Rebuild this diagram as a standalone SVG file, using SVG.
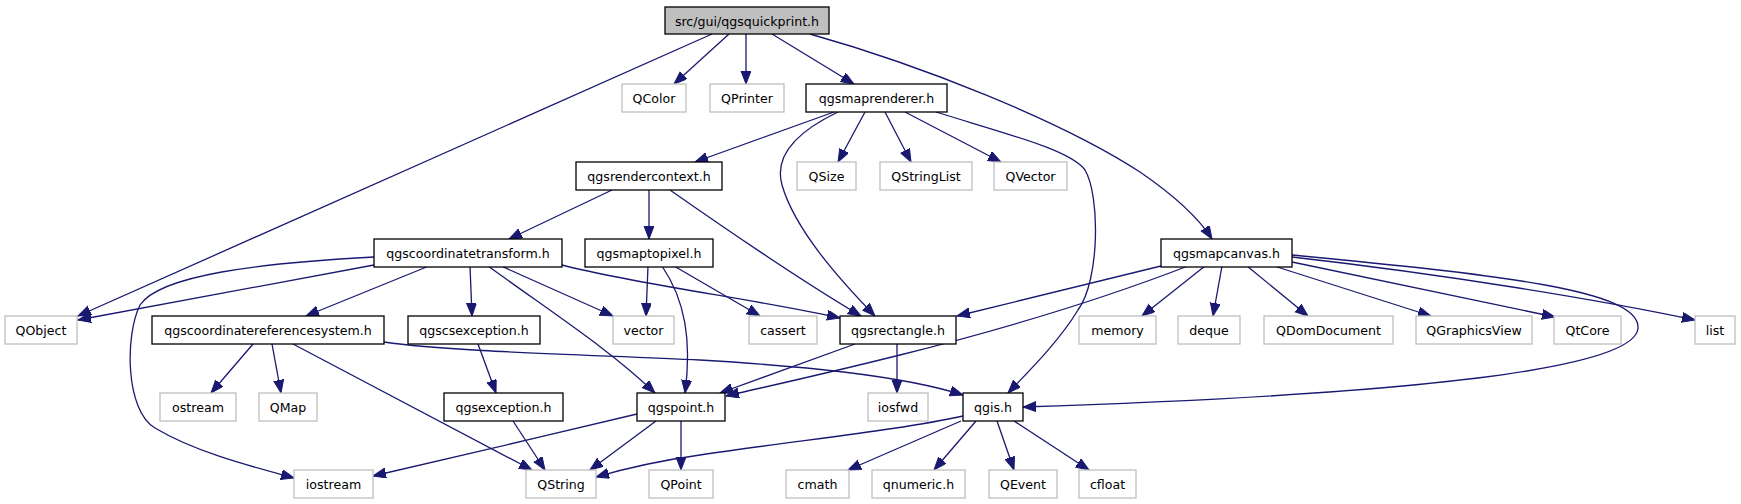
<svg xmlns="http://www.w3.org/2000/svg" width="1741" height="504" viewBox="0 0 1741 504">
<style>
.n rect{fill:#fff;stroke:#000;stroke-width:1.3}
.g rect{fill:#fff;stroke:#bfbfbf;stroke-width:1.3}
.r rect{fill:#bfbfbf;stroke:#000;stroke-width:1.3}
text{font-family:"DejaVu Sans","Liberation Sans",sans-serif;font-size:12.6px;fill:#000;text-anchor:middle}
#edges path{fill:none;stroke:#191970;stroke-width:1.3;marker-end:url(#ah)}
</style>
<defs>
<marker id="ah" markerUnits="userSpaceOnUse" markerWidth="14" markerHeight="12" refX="13" refY="5" orient="auto">
<path d="M0,0 L13,5 L0,10 z" fill="#191970" stroke="#191970" stroke-width="1"/>
</marker>
</defs>
<rect width="1741" height="504" fill="#fff"/>
<g id="edges">
<path d="M712,34 L78,316"/>
<path d="M729,34 L674,84"/>
<path d="M746,34 L746,84"/>
<path d="M772,34 L854,84"/>
<path d="M810,34 C920,65 1060,120 1140,172 C1175,196 1200,220 1212,239"/>
<path d="M834,112 L695,162"/>
<path d="M865,112 L838,162"/>
<path d="M885,112 L911,162"/>
<path d="M905,112 L1001,162"/>
<path d="M838,112 C790,135 775,160 782,185 C795,230 840,280 875,316"/>
<path d="M936,112 C1010,135 1070,150 1085,170 C1100,195 1100,280 1078,310 C1060,340 1030,370 1008,393"/>
<path d="M612,190 L509,239"/>
<path d="M649,190 L649,239"/>
<path d="M670,190 C720,225 800,280 861,316"/>
<path d="M374,265 L78,320"/>
<path d="M374,257 C260,263 160,275 140,305 C125,335 125,410 155,428 C195,452 250,466 294,478"/>
<path d="M429,266 L306,316"/>
<path d="M470,266 L472,316"/>
<path d="M488,266 C560,318 610,350 655,393"/>
<path d="M501,266 L613,316"/>
<path d="M562,265 C640,285 760,300 840,318"/>
<path d="M648,266 L646,316"/>
<path d="M662,266 C685,300 692,340 685,393"/>
<path d="M674,266 L760,316"/>
<path d="M1161,266 L957,316"/>
<path d="M1188,266 C1100,300 1000,330 900,355 C820,375 760,388 726,396"/>
<path d="M1205,266 L1142,316"/>
<path d="M1222,266 L1213,316"/>
<path d="M1247,266 L1308,316"/>
<path d="M1274,266 L1431,316"/>
<path d="M1292,262 L1555,317"/>
<path d="M1292,257 C1450,275 1600,300 1695,320"/>
<path d="M1292,255 C1500,275 1640,290 1638,328 C1636,370 1400,395 1023,407"/>
<path d="M253,344 L211,393"/>
<path d="M272,344 L281,393"/>
<path d="M293,344 L532,470"/>
<path d="M384,342 C450,352 600,355 700,360 C800,366 900,375 963,395"/>
<path d="M478,344 L496,393"/>
<path d="M513,421 L545,470"/>
<path d="M855,344 L720,393"/>
<path d="M897,344 L897,393"/>
<path d="M637,414 C550,435 450,458 373,476"/>
<path d="M656,421 L590,470"/>
<path d="M681,421 L681,470"/>
<path d="M963,416 C900,430 800,440 700,455 C650,462 620,470 596,477"/>
<path d="M961,421 L848,470"/>
<path d="M976,421 L934,470"/>
<path d="M997,421 L1014,470"/>
<path d="M1014,421 L1089,470"/>
</g>
<g id="root" class="r"><rect x="665" y="7" width="164" height="27"/><text x="747" y="26">src/gui/qgsquickprint.h</text></g>
<g id="QColor" class="g"><rect x="622" y="84" width="64" height="28"/><text x="654" y="103">QColor</text></g>
<g id="QPrinter" class="g"><rect x="710" y="84" width="74" height="28"/><text x="747" y="103">QPrinter</text></g>
<g id="qgsmaprenderer" class="n"><rect x="806" y="84" width="141" height="28"/><text x="876.5" y="103">qgsmaprenderer.h</text></g>
<g id="qgsrendercontext" class="n"><rect x="576" y="162" width="146" height="28"/><text x="649" y="181">qgsrendercontext.h</text></g>
<g id="QSize" class="g"><rect x="797" y="162" width="59" height="28"/><text x="826.5" y="181">QSize</text></g>
<g id="QStringList" class="g"><rect x="880" y="162" width="92" height="28"/><text x="926" y="181">QStringList</text></g>
<g id="QVector" class="g"><rect x="994" y="162" width="73" height="28"/><text x="1030.5" y="181">QVector</text></g>
<g id="qgscoordinatetransform" class="n"><rect x="374" y="239" width="188" height="28"/><text x="468" y="258">qgscoordinatetransform.h</text></g>
<g id="qgsmaptopixel" class="n"><rect x="585" y="239" width="128" height="28"/><text x="649" y="258">qgsmaptopixel.h</text></g>
<g id="qgsmapcanvas" class="n"><rect x="1161" y="239" width="131" height="28"/><text x="1226.5" y="258">qgsmapcanvas.h</text></g>
<g id="QObject" class="g"><rect x="5" y="316" width="72" height="28"/><text x="41" y="335">QObject</text></g>
<g id="qgscoordinatereferencesystem" class="n"><rect x="152" y="316" width="232" height="28"/><text x="268" y="335">qgscoordinatereferencesystem.h</text></g>
<g id="qgscsexception" class="n"><rect x="408" y="316" width="132" height="28"/><text x="474" y="335">qgscsexception.h</text></g>
<g id="vector" class="g"><rect x="613" y="316" width="61" height="28"/><text x="643.5" y="335">vector</text></g>
<g id="cassert" class="g"><rect x="749" y="316" width="68" height="28"/><text x="783" y="335">cassert</text></g>
<g id="qgsrectangle" class="n"><rect x="840" y="316" width="116" height="28"/><text x="898" y="335">qgsrectangle.h</text></g>
<g id="memory" class="g"><rect x="1079" y="316" width="77" height="28"/><text x="1117.5" y="335">memory</text></g>
<g id="deque" class="g"><rect x="1178" y="316" width="62" height="28"/><text x="1209" y="335">deque</text></g>
<g id="QDomDocument" class="g"><rect x="1264" y="316" width="129" height="28"/><text x="1328.5" y="335">QDomDocument</text></g>
<g id="QGraphicsView" class="g"><rect x="1416" y="316" width="116" height="28"/><text x="1474" y="335">QGraphicsView</text></g>
<g id="QtCore" class="g"><rect x="1554" y="316" width="67" height="28"/><text x="1587.5" y="335">QtCore</text></g>
<g id="list" class="g"><rect x="1695" y="316" width="40" height="28"/><text x="1715" y="335">list</text></g>
<g id="ostream" class="g"><rect x="160" y="393" width="76" height="28"/><text x="198" y="412">ostream</text></g>
<g id="QMap" class="g"><rect x="259" y="393" width="58" height="28"/><text x="288" y="412">QMap</text></g>
<g id="qgsexception" class="n"><rect x="444" y="393" width="119" height="28"/><text x="503.5" y="412">qgsexception.h</text></g>
<g id="qgspoint" class="n"><rect x="637" y="393" width="88" height="28"/><text x="681" y="412">qgspoint.h</text></g>
<g id="iosfwd" class="g"><rect x="868" y="393" width="60" height="28"/><text x="898" y="412">iosfwd</text></g>
<g id="qgis" class="n"><rect x="963" y="393" width="60" height="28"/><text x="993" y="412">qgis.h</text></g>
<g id="iostream" class="g"><rect x="294" y="470" width="79" height="28"/><text x="333.5" y="489">iostream</text></g>
<g id="QString" class="g"><rect x="526" y="470" width="70" height="28"/><text x="561" y="489">QString</text></g>
<g id="QPoint" class="g"><rect x="649" y="470" width="64" height="28"/><text x="681" y="489">QPoint</text></g>
<g id="cmath" class="g"><rect x="786" y="470" width="63" height="28"/><text x="817.5" y="489">cmath</text></g>
<g id="qnumeric" class="g"><rect x="872" y="470" width="93" height="28"/><text x="918.5" y="489">qnumeric.h</text></g>
<g id="QEvent" class="g"><rect x="989" y="470" width="68" height="28"/><text x="1023" y="489">QEvent</text></g>
<g id="cfloat" class="g"><rect x="1079" y="470" width="57" height="28"/><text x="1107.5" y="489">cfloat</text></g>
</svg>
